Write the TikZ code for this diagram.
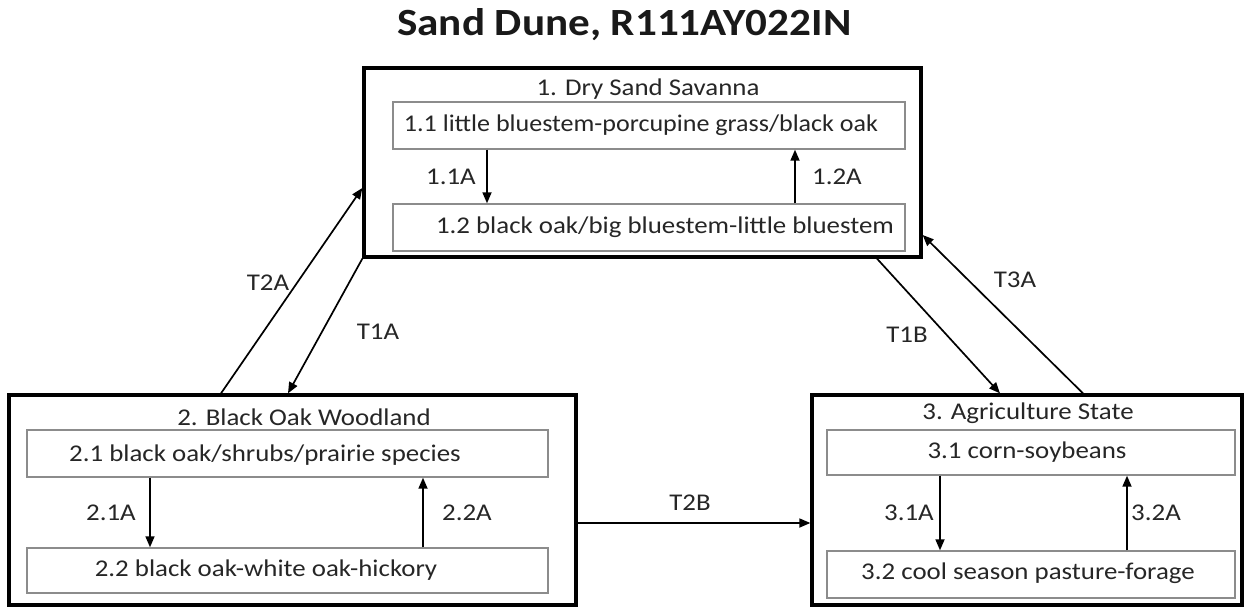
\documentclass[tikz,border=0pt]{standalone}
\usepackage{fontspec}
\setmainfont{Carlito}
\usetikzlibrary{arrows.meta}
\definecolor{textgray}{HTML}{262626}
\definecolor{linegray}{HTML}{8C8C8C}
\newcommand\sx[1]{\scalebox{1.12}[1]{#1}}
\begin{document}
\begin{tikzpicture}[x=1pt,y=-1pt,
  statebox/.style={draw=black, line width=3.3pt, inner sep=0pt},
  phasebox/.style={draw=linegray, line width=1.4pt, inner sep=0pt},
  txt/.style={font=\fontsize{24}{28}\selectfont, text=textgray, inner sep=0pt},
  ttl/.style={font=\fontsize{38.5}{44}\selectfont\bfseries, text=black!90, inner sep=0pt},
  arr/.style={line width=1.7pt, draw=black, -{Triangle[length=11pt,width=9pt]}}]
\useasboundingbox (0,0) rectangle (1245,608);
\fill[white] (0,0) rectangle (1245,608);

\node[ttl, anchor=base west] (title) at (397,35) {\sx{Sand Dune, R111AY022IN}};

% state boxes
\node[statebox, minimum width=557pt, minimum height=189pt] (b1) at (642.5,162.5) {};
\node[statebox, minimum width=567pt, minimum height=210pt] (b2) at (292.5,500) {};
\node[statebox, minimum width=430pt, minimum height=210pt] (b3) at (1027,500) {};

% phase boxes
\node[phasebox, minimum width=512pt, minimum height=47pt] (s11) at (649,125.5) {};
\node[phasebox, minimum width=512pt, minimum height=47pt] (s12) at (649,227.5) {};
\node[phasebox, minimum width=521pt, minimum height=47pt] (s21) at (287.5,453.5) {};
\node[phasebox, minimum width=521pt, minimum height=45pt] (s22) at (287.5,570.5) {};
\node[phasebox, minimum width=408pt, minimum height=45pt] (s31) at (1031,452.5) {};
\node[phasebox, minimum width=408pt, minimum height=47pt] (s32) at (1031,574.5) {};

% texts
\node[txt] (t1) at (648,89) {\sx{1. Dry Sand Savanna}};
\node[txt] (t11) at (641,125) {\scalebox{1.085}[1]{1.1 little bluestem-porcupine grass/black oak}};
\node[txt] (t12) at (665,227) {\sx{1.2 black oak/big bluestem-little bluestem}};
\node[txt] (t2) at (304,417) {\sx{2. Black Oak Woodland}};
\node[txt] (t21) at (265,455) {\sx{2.1 black oak/shrubs/prairie species}};
\node[txt] (t22) at (266,570) {\sx{2.2 black oak-white oak-hickory}};
\node[txt] (t3) at (1028,413) {\sx{3. Agriculture State}};
\node[txt] (t31) at (1027,452) {\sx{3.1 corn-soybeans}};
\node[txt] (t32) at (1028,573) {\sx{3.2 cool season pasture-forage}};

% pathway labels
\node[txt] (l11) at (451,177) {\sx{1.1A}};
\node[txt] (l12) at (837,177) {\sx{1.2A}};
\node[txt] (l21) at (111,513) {\sx{2.1A}};
\node[txt] (l22) at (467,513) {\sx{2.2A}};
\node[txt] (l31) at (909,513) {\sx{3.1A}};
\node[txt] (l32) at (1156,513) {\sx{3.2A}};
\node[txt] (lT2B) at (690,503) {\sx{T2B}};
\node[txt] (lT2A) at (268,283) {\sx{T2A}};
\node[txt] (lT1A) at (378,332) {\sx{T1A}};
\node[txt] (lT3A) at (1015,280) {\sx{T3A}};
\node[txt] (lT1B) at (907,335) {\sx{T1B}};

% inner arrows
\draw[arr] ([xshift=-162pt]s11.south) -- ([xshift=-162pt]s12.north);
\draw[arr] ([xshift=146pt]s12.north) -- ([xshift=146pt]s11.south);
\draw[arr] ([xshift=-137.5pt]s21.south) -- ([xshift=-137.5pt]s22.north);
\draw[arr] ([xshift=135.5pt]s22.north) -- ([xshift=135.5pt]s21.south);
\draw[arr] ([xshift=-91pt]s31.south) -- ([xshift=-91pt]s32.north);
\draw[arr] ([xshift=96pt]s32.north) -- ([xshift=96pt]s31.south);

% transitions
\draw[arr] ([xshift=-71.5pt]b2.north) -- ([yshift=-25.5pt]b1.west);
\draw[arr] (b1.south west) -- ([xshift=-4.5pt]b2.north);
\draw[arr] ([xshift=234.5pt]b1.south) -- ([xshift=-27pt]b3.north);
\draw[arr] ([xshift=56pt]b3.north) -- ([yshift=-72.5pt]b1.east);
\draw[arr] ([yshift=-23pt]b2.east) -- ([yshift=-23pt]b3.west);
\end{tikzpicture}
\end{document}
